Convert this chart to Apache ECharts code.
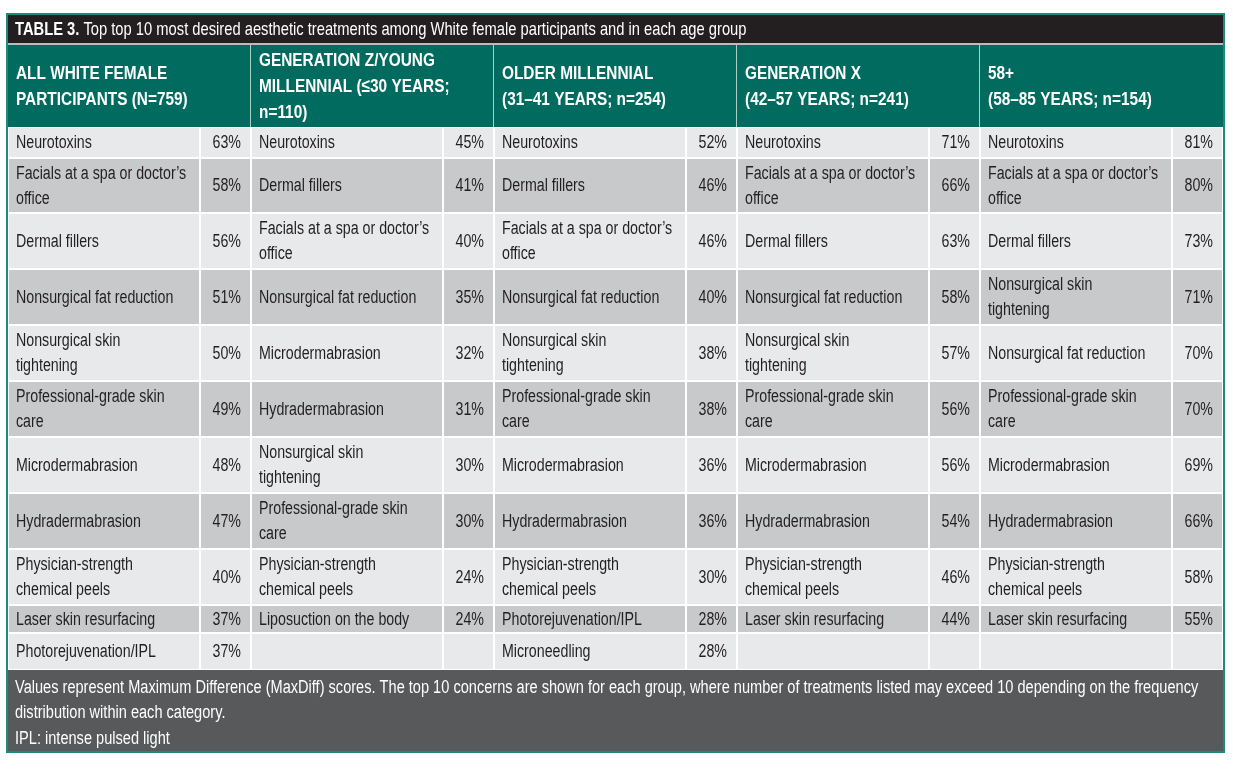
<!DOCTYPE html>
<html>
<head>
<meta charset="utf-8">
<script src="https://cdn.jsdelivr.net/npm/echarts@6/dist/echarts.min.js"></script>
<style>
    html, body { margin: 0; padding: 0; background: #fff; }
    #main { width: 1233px; height: 769px; }
</style>
</head>
<body>
<div id="main"></div>
<script>
// table data
var groups = [
    'ALL WHITE FEMALE\nPARTICIPANTS (N=759)',
    'GENERATION Z/YOUNG\nMILLENNIAL (≤30 YEARS;\nn=110)',
    'OLDER MILLENNIAL\n(31–41 YEARS; n=254)',
    'GENERATION X\n(42–57 YEARS; n=241)',
    '58+\n(58–85 YEARS; n=154)'
];

var allTreatments = ['Neurotoxins', 'Facials at a spa or doctor’s\noffice', 'Dermal fillers', 'Nonsurgical fat reduction',
    'Nonsurgical skin\ntightening', 'Professional-grade skin\ncare', 'Microdermabrasion', 'Hydradermabrasion',
    'Physician-strength\nchemical peels', 'Laser skin resurfacing', 'Photorejuvenation/IPL'];
var allValues = [63, 58, 56, 51, 50, 49, 48, 47, 40, 37, 37];

var genZTreatments = ['Neurotoxins', 'Dermal fillers', 'Facials at a spa or doctor’s\noffice', 'Nonsurgical fat reduction',
    'Microdermabrasion', 'Hydradermabrasion', 'Nonsurgical skin\ntightening', 'Professional-grade skin\ncare',
    'Physician-strength\nchemical peels', 'Liposuction on the body'];
var genZValues = [45, 41, 40, 35, 32, 31, 30, 30, 24, 24];

var olderMillTreatments = ['Neurotoxins', 'Dermal fillers', 'Facials at a spa or doctor’s\noffice', 'Nonsurgical fat reduction',
    'Nonsurgical skin\ntightening', 'Professional-grade skin\ncare', 'Microdermabrasion', 'Hydradermabrasion',
    'Physician-strength\nchemical peels', 'Photorejuvenation/IPL', 'Microneedling'];
var olderMillValues = [52, 46, 46, 40, 38, 38, 36, 36, 30, 28, 28];

var genXTreatments = ['Neurotoxins', 'Facials at a spa or doctor’s\noffice', 'Dermal fillers', 'Nonsurgical fat reduction',
    'Nonsurgical skin\ntightening', 'Professional-grade skin\ncare', 'Microdermabrasion', 'Hydradermabrasion',
    'Physician-strength\nchemical peels', 'Laser skin resurfacing'];
var genXValues = [71, 66, 63, 58, 57, 56, 56, 54, 46, 44];

var over58Treatments = ['Neurotoxins', 'Facials at a spa or doctor’s\noffice', 'Dermal fillers', 'Nonsurgical skin\ntightening',
    'Nonsurgical fat reduction', 'Professional-grade skin\ncare', 'Microdermabrasion', 'Hydradermabrasion',
    'Physician-strength\nchemical peels', 'Laser skin resurfacing'];
var over58Values = [81, 80, 73, 71, 70, 70, 69, 66, 58, 55];

var titleBold = 'TABLE 3.';
var titleText = ' Top top 10 most desired aesthetic treatments among White female participants and in each age group';
var footnote = 'Values represent Maximum Difference (MaxDiff) scores. The top 10 concerns are shown for each group, where number of treatments listed may exceed 10 depending on the frequency\ndistribution within each category.\nIPL: intense pulsed light';

var columns = [
    [allTreatments, allValues],
    [genZTreatments, genZValues],
    [olderMillTreatments, olderMillValues],
    [genXTreatments, genXValues],
    [over58Treatments, over58Values]
];

// layout: header height then each body row (px units on the y axis)
var rowHeights = [82, 31, 55, 56, 56, 56, 56, 56, 56, 56, 28, 37];
var rowTops = [0];
rowHeights.forEach(function (h, i) { rowTops.push(rowTops[i] + h); });
var nameShare = 0.79;
// no condensed face installed, so squeeze a regular one
var FONT = '"Liberation Sans", Arial, sans-serif';
var SQUEEZE = 0.79;

var cells = [];
columns.forEach(function (col, g) {
    cells.push([g, -1, groups[g], '']);
    for (var r = 0; r < 11; r++) {
        var name = col[0][r];
        cells.push([g, r, name !== undefined ? name : '', col[1][r] !== undefined ? col[1][r] + '%' : '']);
    }
});

function renderCell(params, api) {
    var g = api.value(0), r = api.value(1);
    var idx = cells[params.dataIndex];
    var p0 = api.coord([g, rowTops[r + 1]]);
    var p1 = api.coord([g + 1, rowTops[r + 2]]);
    var w = p1[0] - p0[0], h = p1[1] - p0[1];
    var split = p0[0] + w * nameShare;

    if (r < 0) {
        return {
            type: 'group',
            children: [
                {type: 'rect', shape: {x: p0[0], y: p0[1], width: w, height: h}, style: {fill: '#006b5e'}},
                {type: 'rect', shape: {x: p1[0] - 1, y: p0[1], width: g < 4 ? 1.5 : 0, height: h}, style: {fill: '#a9cfc7'}},
                {
                    type: 'text', x: p0[0] + 8, y: p0[1] + h / 2 + 1, scaleX: 0.81,
                    style: {
                        text: idx[2], fill: '#fff', font: 'bold 19px ' + FONT,
                        lineHeight: 26, verticalAlign: 'middle', align: 'left'
                    }
                }
            ]
        };
    }
    var fill = r % 2 === 0 ? '#e8e9ea' : '#c8c9cb';
    return {
        type: 'group',
        children: [
            {type: 'rect', shape: {x: p0[0] + 1, y: p0[1] + 1, width: split - p0[0] - 2, height: h - 2}, style: {fill: fill}},
            {type: 'rect', shape: {x: split + 1, y: p0[1] + 1, width: p1[0] - split - 2, height: h - 2}, style: {fill: fill}},
            {
                type: 'text', x: p0[0] + 8, y: p0[1] + h / 2 + 1, scaleX: SQUEEZE,
                style: {text: idx[2], fill: '#231f20', font: '18px ' + FONT, lineHeight: 25, verticalAlign: 'middle', align: 'left'}
            },
            {
                type: 'text', x: p1[0] - 10, y: p0[1] + h / 2 + 1, scaleX: SQUEEZE,
                style: {text: idx[3], fill: '#231f20', font: '18px ' + FONT, verticalAlign: 'middle', align: 'right'}
            }
        ]
    };
}

var chart = echarts.init(document.getElementById('main'));
chart.setOption({
    animation: false,
    grid: {left: 8, top: 45, width: 1215, height: 625},
    xAxis: {type: 'value', min: 0, max: 5, show: false},
    yAxis: {type: 'value', min: 0, max: rowTops[rowTops.length - 1], inverse: true, show: false},
    graphic: [
        {type: 'rect', shape: {x: 7, y: 14, width: 1217, height: 738}, style: {fill: '#fff', stroke: '#1d8a7b', lineWidth: 2}, z: -10},
        {type: 'rect', shape: {x: 8, y: 15, width: 1215, height: 28}, style: {fill: '#231f20'}},
        {type: 'rect', shape: {x: 8, y: 43, width: 1215, height: 2}, style: {fill: '#b9bcbb'}},
        {
            type: 'text', x: 15, y: 30, scaleX: 0.775,
            style: {
                text: '{b|' + titleBold + '}{n|' + titleText + '}', verticalAlign: 'middle',
                rich: {
                    b: {font: 'bold 19px ' + FONT, fill: '#fff'},
                    n: {font: '19px ' + FONT, fill: '#fff'}
                }
            }
        },
        {type: 'rect', shape: {x: 8, y: 670, width: 1215, height: 81}, style: {fill: '#58595b'}},
        {
            type: 'text', x: 15, y: 675, scaleX: 0.81,
            style: {text: footnote, fill: '#fff', font: '18px ' + FONT, lineHeight: 25.5, verticalAlign: 'top'}
        }
    ],
    series: [{
        type: 'custom',
        coordinateSystem: 'cartesian2d',
        renderItem: renderCell,
        encode: {x: 0, y: 1},
        data: cells.map(function (c) { return [c[0], c[1]]; })
    }]
});
</script>
</body>
</html>
